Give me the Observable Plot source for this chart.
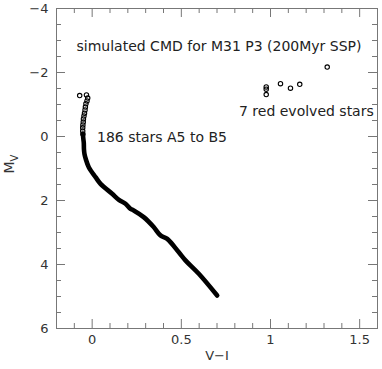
<!DOCTYPE html>
<html>
<head>
<meta charset="utf-8">
<script src="https://cdn.jsdelivr.net/npm/d3@7"></script>
<script src="https://cdn.jsdelivr.net/npm/@observablehq/plot@0.6"></script>
<style>
  html, body { margin: 0; padding: 0; background: #fff; }
  #chart { width: 382px; height: 369px; }
</style>
</head>
<body>
<div id="chart"></div>
<script>
// ---- Data ----
// Upper main sequence: individually visible open circles (V-I, M_V)
const msUpperVI = [-0.070, -0.032, -0.025, -0.029, -0.035, -0.038, -0.040, -0.043, -0.046, -0.049, -0.050, -0.052, -0.053, -0.053, -0.052];
const msUpperMV = [-1.28, -1.30, -1.20, -1.11, -1.02, -0.92, -0.83, -0.73, -0.64, -0.55, -0.45, -0.36, -0.27, -0.17, -0.08];
// Dense part of the 186-star sequence (ridge)
const msVI = [-0.052, -0.050, -0.047, -0.046, -0.043, -0.035, -0.019, 0.019, 0.047, 0.112, 0.150, 0.187, 0.215, 0.233, 0.289, 0.345, 0.383, 0.421, 0.486, 0.523, 0.598, 0.701];
const msMV = [-0.08, 0.05, 0.20, 0.40, 0.55, 0.72, 0.96, 1.27, 1.48, 1.79, 1.98, 2.10, 2.26, 2.31, 2.52, 2.83, 3.09, 3.20, 3.62, 3.87, 4.29, 4.97];
// 7 red evolved stars
const redVI = [1.318, 0.976, 0.976, 0.976, 1.056, 1.112, 1.164];
const redMV = [-2.17, -1.55, -1.48, -1.31, -1.65, -1.51, -1.63];
// Axis ticks
const xTickValues = [0, 0.5, 1, 1.5];
const xMinorTicks = [-0.1, 0.1, 0.2, 0.3, 0.4, 0.6, 0.7, 0.8, 0.9, 1.1, 1.2, 1.3, 1.4];
const yTickValues = [-4, -2, 0, 2, 4, 6];
const yMajorTicks = [-2, 0, 2, 4];
const yMinorTicks = [-3.5, -3, -2.5, -1.5, -1, -0.5, 0.5, 1, 1.5, 2.5, 3, 3.5, 4.5, 5, 5.5];
// Text
const titleText = "simulated CMD for M31 P3 (200Myr SSP)";
const msLabel = { text: "186 stars A5 to B5", x: 0.027, y: 0.03 };
const redLabel = { text: "7 red evolved stars", x: 1.579, y: -0.78 };
const xLabel = "V−I";

// ---- Build ----
const upper = msUpperVI.map((v, i) => ({ vi: v, mv: msUpperMV[i] }));
const ms = msVI.map((v, i) => ({ vi: v, mv: msMV[i] }));
const red = redVI.map((v, i) => ({ vi: v, mv: redMV[i] }));

const W = 382, H = 369, mT = 8, mR = 5, mB = 41, mL = 56;
const ih = H - mT - mB, iw = W - mL - mR;
const tickCol = "#777", major = 9, minor = 5;
const fmt = d => d < 0 ? "−" + (-d) : String(d);

const chart = Plot.plot({
  width: W, height: H,
  marginTop: mT, marginRight: mR, marginBottom: mB, marginLeft: mL,
  style: { fontFamily: "DejaVu Sans", fontSize: "13px", background: "#fff", color: "#222" },
  x: { domain: [-0.2, 1.6], label: null },
  y: { domain: [6, -4], label: null },
  marks: [
    Plot.frame({ stroke: tickCol }),
    // x ticks bottom and top (inward)
    Plot.tickX(xTickValues, { x: d => d, insetTop: ih - major, stroke: tickCol }),
    Plot.tickX(xMinorTicks, { x: d => d, insetTop: ih - minor, stroke: tickCol }),
    Plot.tickX(xTickValues, { x: d => d, insetBottom: ih - major, stroke: tickCol }),
    Plot.tickX(xMinorTicks, { x: d => d, insetBottom: ih - minor, stroke: tickCol }),
    // y ticks left and right (inward)
    Plot.tickY(yMajorTicks, { y: d => d, insetRight: iw - major, stroke: tickCol }),
    Plot.tickY(yMinorTicks, { y: d => d, insetRight: iw - minor, stroke: tickCol }),
    Plot.tickY(yMajorTicks, { y: d => d, insetLeft: iw - major, stroke: tickCol }),
    Plot.tickY(yMinorTicks, { y: d => d, insetLeft: iw - minor, stroke: tickCol }),
    Plot.axisX(xTickValues, { tickSize: 0, tickPadding: 6, tickFormat: fmt, fill: "#333", fontSize: 13 }),
    Plot.axisY(yTickValues, { tickSize: 0, tickPadding: 8, tickFormat: fmt, fill: "#333", fontSize: 13 }),
    // main sequence
    Plot.line(ms, { x: "vi", y: "mv", stroke: "#000", strokeWidth: 4.6, strokeLinecap: "round", strokeLinejoin: "round", curve: "catmull-rom" }),
    Plot.dot(upper, { x: "vi", y: "mv", r: 2.2, stroke: "#000", strokeWidth: 1.1, fill: "none" }),
    Plot.dot(red, { x: "vi", y: "mv", r: 2.2, stroke: "#000", strokeWidth: 1.1, fill: "none" }),
    // annotations
    Plot.text([titleText], { text: d => d, frameAnchor: "top", dy: 33, dx: 2, fontSize: 14, fill: "#222" }),
    Plot.text([msLabel], { x: "x", y: "y", text: "text", textAnchor: "start", fontSize: 14, fill: "#222" }),
    Plot.text([redLabel], { x: "x", y: "y", text: "text", textAnchor: "end", fontSize: 14, fill: "#222" }),
    Plot.text([xLabel], { text: d => d, frameAnchor: "bottom", dy: 31, fontSize: 13, fill: "#333" })
  ]
});

// y-axis label M_V with subscript
const svg = d3.select(chart);
const yl = svg.append("text")
  .attr("transform", "translate(13.5,164) rotate(-90)")
  .attr("text-anchor", "middle")
  .attr("font-family", "DejaVu Sans")
  .attr("font-size", 14)
  .attr("fill", "#333");
yl.append("tspan").text("M");
yl.append("tspan").attr("font-size", 10).attr("dy", 4).text("V");

document.getElementById("chart").appendChild(chart);
</script>
</body>
</html>
